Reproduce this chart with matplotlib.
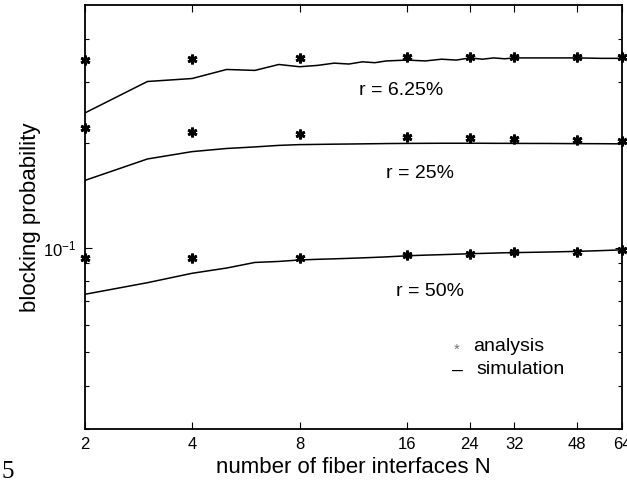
import matplotlib
matplotlib.use("Agg")
import matplotlib.pyplot as plt
from matplotlib.ticker import FixedLocator, NullFormatter, NullLocator

plt.rcParams["font.family"] = ["Liberation Sans", "DejaVu Sans"]
plt.rcParams["mathtext.default"] = "regular"

# number of fiber interfaces where the analysis was evaluated
n_analysis = [2, 4, 8, 16, 24, 32, 48, 64]
ana_625 = [0.347, 0.350, 0.352, 0.354, 0.354, 0.354, 0.354, 0.355]
ana_25 = [0.221, 0.216, 0.212, 0.208, 0.207, 0.205, 0.204, 0.203]
ana_50 = [0.0930, 0.0930, 0.0931, 0.0949, 0.0961, 0.0968, 0.0974, 0.0987]

# simulation runs
n_sim = [2, 3, 4, 5, 6, 7, 8, 9, 10, 11, 12, 13, 14, 16, 18, 20, 22, 24,
         26, 28, 30, 32, 40, 48, 56, 64]
sim_625 = [0.244, 0.301, 0.307, 0.326, 0.324, 0.337, 0.332, 0.335, 0.340,
           0.338, 0.343, 0.341, 0.345, 0.347, 0.345, 0.349, 0.347, 0.352,
           0.349, 0.352, 0.350, 0.352, 0.352, 0.352, 0.351, 0.351]
sim_25 = [0.156, 0.180, 0.189, 0.193, 0.195, 0.197, 0.198, 0.1983, 0.1986,
          0.1988, 0.199, 0.1992, 0.1994, 0.1996, 0.1997, 0.1998, 0.1998,
          0.1998, 0.1998, 0.1997, 0.1997, 0.1996, 0.1995, 0.1993, 0.1992,
          0.199]
sim_50 = [0.0733, 0.0792, 0.0843, 0.0873, 0.0906, 0.0912, 0.0921, 0.0925,
          0.0928, 0.0931, 0.0934, 0.0937, 0.0940, 0.0947, 0.0951, 0.0954,
          0.0957, 0.0960, 0.0962, 0.0964, 0.0966, 0.0967, 0.0971, 0.0975,
          0.0980, 0.0985]

x_ticks = [2, 4, 8, 16, 24, 32, 48, 64]
x_ticklabels = ["2", "4", "8", "16", "24", "32", "48", "64"]
y_minor = [0.03, 0.04, 0.05, 0.06, 0.07, 0.08, 0.09, 0.2, 0.3, 0.4]

fig = plt.figure(figsize=(6.27, 4.83), dpi=100)
ax = fig.add_axes([0.1348, 0.1118, 0.8572, 0.8778])

for sim in (sim_625, sim_25, sim_50):
    ax.plot(n_sim, sim, color="black", lw=1.1)
for ana in (ana_625, ana_25, ana_50):
    ax.plot(n_analysis, ana, ls="none", marker=(6, 2, 0), ms=7, mew=2.0,
            color="black", clip_on=False, zorder=5)

ax.set_xscale("log", base=2)
ax.set_yscale("log")
ax.set_xlim(2, 64)
ax.set_ylim(0.03, 0.5)

ax.xaxis.set_major_locator(FixedLocator(x_ticks))
ax.set_xticklabels(x_ticklabels)
ax.xaxis.set_minor_locator(NullLocator())
ax.yaxis.set_major_locator(FixedLocator([0.1]))
ax.set_yticklabels([r"$10^{-1}$"])
ax.yaxis.set_minor_locator(FixedLocator(y_minor))
ax.yaxis.set_minor_formatter(NullFormatter())

ax.tick_params(which="both", direction="in", top=True, right=True,
               labelsize=12, width=0.8)
ax.tick_params(which="major", length=5, pad=6)
ax.tick_params(which="minor", length=3)
for s in ax.spines.values():
    s.set_linewidth(1.3)

ax.set_xlabel("number of fiber interfaces N", fontsize=16, labelpad=3)
ax.set_ylabel("blocking probability", fontsize=16, labelpad=1)

ax.text(15.4, 0.284, "r = 6.25%", fontsize=14, ha="center", va="center")
ax.text(17.4, 0.164, "r = 25%", fontsize=14, ha="center", va="center")
ax.text(18.6, 0.0748, "r = 50%", fontsize=14, ha="center", va="center")

ax.text(22.1, 0.0508, "*", fontsize=11, color="0.45", ha="center", va="center")
ax.text(24.5, 0.0520, "analysis", fontsize=14, ha="left", va="center")
ax.text(22.2, 0.0444, "\u2013", fontsize=14, ha="center", va="center")
ax.text(25.0, 0.0444, "simulation", fontsize=14, ha="left", va="center")

fig.text(0.003, 0.022, "5", fontsize=18, family="Liberation Serif",
         ha="left", va="center")

fig.savefig("out.png", dpi=100)
